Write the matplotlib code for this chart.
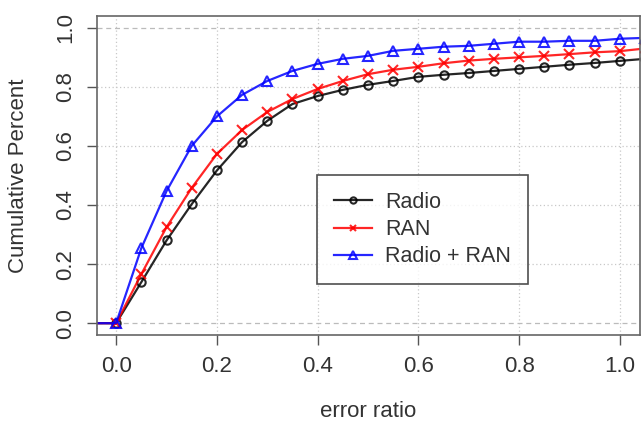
import matplotlib
matplotlib.use("Agg")
import matplotlib.pyplot as plt
import numpy as np

plt.rcParams['font.family'] = ['Liberation Sans', 'DejaVu Sans']

# error ratio grid (one point beyond each end, clipped by the axes like in R)
error_ratio = [-0.05, 0.0, 0.05, 0.1, 0.15, 0.2, 0.25, 0.3, 0.35, 0.4, 0.45, 0.5,
               0.55, 0.6, 0.65, 0.7, 0.75, 0.8, 0.85, 0.9, 0.95, 1.0, 1.05]

radio = [0.0, 0.0, 0.139, 0.28, 0.403, 0.517, 0.613, 0.685, 0.742, 0.769, 0.79, 0.807,
         0.82, 0.834, 0.841, 0.847, 0.854, 0.861, 0.868, 0.875, 0.881, 0.888, 0.895]
ran = [0.0, 0.0, 0.166, 0.325, 0.458, 0.573, 0.654, 0.715, 0.759, 0.793, 0.82, 0.843,
       0.858, 0.868, 0.88, 0.889, 0.895, 0.9, 0.905, 0.911, 0.917, 0.921, 0.93]
radio_ran = [0.0, 0.0, 0.254, 0.447, 0.6, 0.70, 0.773, 0.82, 0.854, 0.878, 0.895, 0.905,
             0.922, 0.929, 0.936, 0.939, 0.946, 0.953, 0.953, 0.956, 0.956, 0.963, 0.966]

tick_vals = [0.0, 0.2, 0.4, 0.6, 0.8, 1.0]

series = [
    ("Radio", radio, "black", "o", 6),
    ("RAN", ran, "red", "x", 6.5),
    ("Radio + RAN", radio_ran, "blue", "^", 7.5),
]

fig = plt.figure(figsize=(6.42, 4.22), dpi=100)
ax = fig.add_axes([97 / 642, 1 - 335 / 422, 543 / 642, 319 / 422])

# R-style grid: dotted light grey, plus dashed lines at 0 and 1
for t in tick_vals:
    ax.axvline(t, color="#c8c8c8", lw=0.9, ls=(0, (1, 2)), zorder=0)
    if 0 < t < 1:
        ax.axhline(t, color="#c8c8c8", lw=0.9, ls=(0, (1, 2)), zorder=0)
for h in (0.0, 1.0):
    ax.axhline(h, color="#bbbbbb", lw=0.9, ls=(0, (4, 3)), zorder=0)

for label, vals, col, mk, ms in series:
    ax.plot(error_ratio, vals, color=col, lw=1.6, marker=mk, ms=ms,
            mfc="none", mew=1.5, label=label, alpha=0.85)

ax.set_xlim(-0.038, 1.04)
ax.set_ylim(-0.04, 1.04)
ax.set_xticks(tick_vals)
ax.set_yticks(tick_vals)
ax.set_xticklabels([f"{t:.1f}" for t in tick_vals])
ax.set_yticklabels([f"{t:.1f}" for t in tick_vals], rotation=90, va="center")
ax.tick_params(length=7, width=1, color="#555555", labelsize=16, labelcolor="#333333", pad=8)
for s in ax.spines.values():
    s.set_color("#666666")
    s.set_linewidth(1.2)

ax.set_xlabel("error ratio", fontsize=16, color="#333333")
ax.set_ylabel("Cumulative Percent", fontsize=16, color="#333333")
ax.xaxis.set_label_coords(0.5, -0.207)
ax.yaxis.set_label_coords(-0.125, 0.5)

leg = ax.legend(loc="upper left", bbox_to_anchor=((317 - 97) / 543, (335 - 175) / 319),
                fontsize=15.5, frameon=True, fancybox=False, edgecolor="#222222",
                handlelength=1.8, borderpad=0.77, labelspacing=0.3, handletextpad=0.6,
                markerscale=0.75, borderaxespad=0)
leg.get_frame().set_linewidth(1.2)
for t in leg.get_texts():
    t.set_color("#333333")

fig.savefig("out.png", dpi=100)
